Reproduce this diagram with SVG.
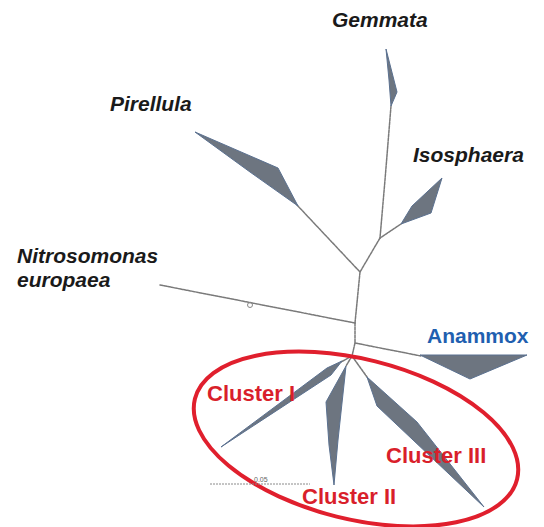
<svg xmlns="http://www.w3.org/2000/svg" width="544" height="527" viewBox="0 0 544 527">
  <style>
    .taxon { font-family: "Liberation Sans", Arial, sans-serif; font-weight: bold; font-style: italic; font-size: 21px; fill: #1a1a1a; }
    .group { font-family: "Liberation Sans", Arial, sans-serif; font-weight: bold; font-size: 21px; }
    .anammox { fill: #1f5fb0; }
    .cluster { fill: #d91f2b; font-size: 22px; }
    .wedge { fill: #6d7580; stroke: #5b7190; stroke-width: 1; stroke-linejoin: round; }
    .branch { fill: none; stroke: #7a7a7a; stroke-width: 1.5; stroke-dasharray: 3 1; stroke-linecap: round; }
    .scale { fill: none; stroke: #8a8a8a; stroke-width: 1; stroke-dasharray: 2 1; }
    .scaletext { font-family: "Liberation Sans", Arial, sans-serif; font-size: 7px; fill: #666; }
  </style>
  <rect width="544" height="527" fill="#ffffff"/>

  <g id="connectors">
    <polyline class="branch" points="391,106 385,180 380,238"/>
    <line class="branch" x1="401" y1="224" x2="380" y2="238"/>
    <line class="branch" x1="297" y1="205" x2="360" y2="272"/>
    <line class="branch" x1="380" y1="238" x2="360" y2="272"/>
    <line class="branch" x1="360" y1="272" x2="355" y2="323"/>
    <line class="branch" x1="160" y1="285" x2="355" y2="323"/>
    <line class="branch" x1="355" y1="323" x2="355" y2="343"/>
    <line class="branch" x1="355" y1="343" x2="421" y2="356"/>
    <line class="branch" x1="355" y1="343" x2="352" y2="356"/>
    <line class="branch" x1="352" y1="356" x2="341" y2="362"/>
    <line class="branch" x1="352" y1="356" x2="346" y2="366"/>
    <line class="branch" x1="352" y1="356" x2="367" y2="377"/>
    <circle cx="250" cy="305" r="2.5" fill="none" stroke="#888" stroke-width="1"/>
  </g>

  <g id="gemmata">
    <polygon class="wedge" points="386,49 397,92 391,106 389,80"/>
    <text class="taxon" x="332" y="27">Gemmata</text>
  </g>

  <g id="pirellula">
    <polygon class="wedge" points="195,132 278,168 298,206 250,172"/>
    <text class="taxon" x="110" y="111">Pirellula</text>
  </g>

  <g id="isosphaera">
    <polygon class="wedge" points="442,178 412,206 401,224 431,213"/>
    <text class="taxon" x="413" y="162">Isosphaera</text>
  </g>

  <g id="nitrosomonas">
    <text class="taxon" x="17" y="263">Nitrosomonas</text>
    <text class="taxon" x="17" y="287">europaea</text>
  </g>

  <g id="anammox">
    <polygon class="wedge" points="420,355 527,355 470,379"/>
    <text class="group anammox" x="427" y="343">Anammox</text>
  </g>

  <g id="cluster-i">
    <polygon class="wedge" points="342,361 327,368 221,447 331,375"/>
    <text class="group cluster" x="207" y="401">Cluster I</text>
  </g>

  <g id="cluster-ii">
    <polygon class="wedge" points="346,366 326,402 329,445 334,485 338,440"/>
    <text class="group cluster" x="302" y="504">Cluster II</text>
  </g>

  <g id="cluster-iii">
    <polygon class="wedge" points="367,377 377,406 484,507 417,422"/>
    <text class="group cluster" x="386" y="463">Cluster III</text>
  </g>

  <g id="cluster-outline">
    <ellipse cx="356" cy="439" rx="166" ry="80" transform="rotate(14 356 439)" fill="none" stroke="#e01f2d" stroke-width="4"/>
  </g>

  <g id="scale-bar">
    <line class="scale" x1="210" y1="484" x2="310" y2="484"/>
    <text class="scaletext" x="254" y="482">0.05</text>
  </g>
</svg>
